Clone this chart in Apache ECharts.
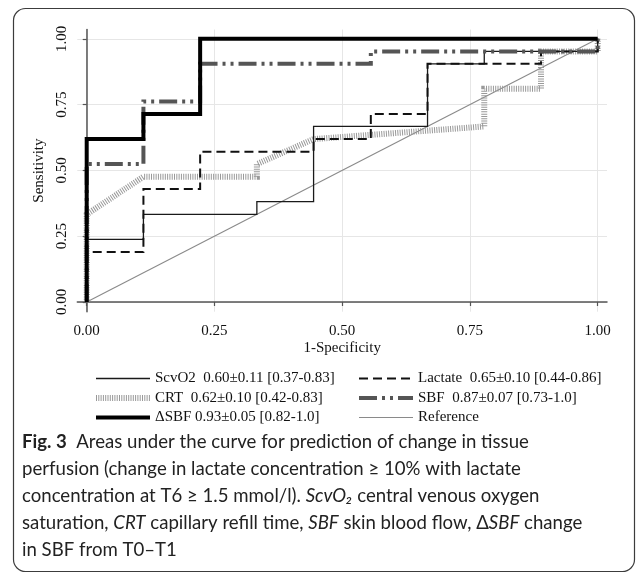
<!DOCTYPE html>
<html>
<head>
<meta charset="utf-8">
<script src="https://cdn.jsdelivr.net/npm/echarts@6/dist/echarts.min.js"></script>
<style>
html, body { margin: 0; padding: 0; background: #fff; }
#chart { width: 637px; height: 574px; }
</style>
</head>
<body>
<div id="chart"></div>
<script>
// ROC steps: [1-specificity, sensitivity]
var scvo2 = [[0,0],[0,0.238],[0.111,0.238],[0.111,0.333],[0.333,0.333],[0.333,0.381],[0.444,0.381],[0.444,0.667],[0.667,0.667],[0.667,0.905],[0.778,0.905],[0.778,0.952],[1,0.952],[1,1]];
var lactate = [[0,0],[0,0.190],[0.111,0.190],[0.111,0.429],[0.222,0.429],[0.222,0.571],[0.444,0.571],[0.444,0.619],[0.556,0.619],[0.556,0.714],[0.667,0.714],[0.667,0.905],[0.889,0.905],[0.889,0.952],[1,0.952],[1,1]];
var crt = [[0,0],[0,0.333],[0.111,0.476],[0.333,0.476],[0.333,0.524],[0.444,0.619],[0.778,0.667],[0.778,0.810],[0.889,0.810],[0.889,0.952],[1,0.952],[1,1]];
var sbf = [[0,0],[0,0.524],[0.111,0.524],[0.111,0.762],[0.222,0.762],[0.222,0.905],[0.556,0.905],[0.556,0.952],[1,0.952],[1,1]];
var dsbf = [[0,0],[0,0.619],[0.111,0.619],[0.111,0.714],[0.222,0.714],[0.222,1],[1,1]];
var reference = [[0,0],[1,1]];
var ticks = [0, 0.25, 0.5, 0.75, 1];
var names = ['ScvO2  0.60±0.11 [0.37-0.83]', 'Lactate  0.65±0.10 [0.44-0.86]',
             'CRT  0.62±0.10 [0.42-0.83]', 'SBF  0.87±0.07 [0.73-1.0]',
             '\u0394SBF 0.93±0.05 [0.82-1.0]', 'Reference'];

var serif = 'Liberation Serif';
var chart = echarts.init(document.getElementById('chart'));

function fmt(v) { return v.toFixed(2); }

function lineSeries(name, data, color, width, type, z) {
    return {
        name: name,
        type: 'line',
        data: data,
        symbol: 'none',
        showSymbol: false,
        z: z,
        animation: false,
        lineStyle: {color: color, width: width, type: type, cap: 'butt', join: 'miter'},
        itemStyle: {color: color}
    };
}

var caption = '{b|Fig. 3}  Areas under the curve for prediction of change in tissue\n' +
    'perfusion (change in lactate concentration \u2265 10% with lactate\n' +
    'concentration at T6 \u2265 1.5 mmol/l). {i|ScvO\u2082} central venous oxygen\n' +
    'saturation, {i|CRT} capillary refill time, {i|SBF} skin blood flow, \u0394{i|SBF} change\n' +
    'in SBF from T0\u2013T1';

var legendBase = {
    orient: 'vertical',
    top: 366,
    itemWidth: 54, itemHeight: 14, itemGap: 4.5,
    textStyle: {fontFamily: serif, fontSize: 15, color: '#111'},
    lineStyle: {width: 'inherit'},
    itemStyle: {opacity: 0, borderWidth: 0},
    selectedMode: false
};

var option = {
    animation: false,
    textStyle: {fontFamily: serif},
    grid: {left: 77.3, right: 30, top: 29.5, bottom: 262.3, containLabel: false},
    xAxis: {
        type: 'value',
        min: -0.0184,
        max: 1.0182,
        name: '1-Specificity',
        nameLocation: 'middle',
        nameGap: 29,
        nameTextStyle: {fontFamily: serif, fontSize: 15, color: '#111'},
        axisLine: {lineStyle: {color: '#555', width: 1.5}},
        axisTick: {show: true, length: 4, customValues: ticks, lineStyle: {color: '#555', width: 1.2}},
        axisLabel: {customValues: ticks, formatter: fmt, fontFamily: serif, fontSize: 15, color: '#111', margin: 12},
        splitLine: {show: true, lineStyle: {color: '#e6e6e6', width: 1}}
    },
    yAxis: {
        type: 'value',
        min: -0.0369,
        max: 1.0354,
        name: 'Sensitivity',
        nameLocation: 'middle',
        nameGap: 21,
        nameRotate: 90,
        nameTextStyle: {fontFamily: serif, fontSize: 15, color: '#111'},
        axisLine: {show: true, lineStyle: {color: '#555', width: 1.5}},
        axisTick: {show: true, length: 4, customValues: ticks, lineStyle: {color: '#555', width: 1.2}},
        axisLabel: {customValues: ticks, formatter: fmt, rotate: 90, fontFamily: serif, fontSize: 15, color: '#111', margin: 8},
        splitLine: {show: true, lineStyle: {color: '#e6e6e6', width: 1}}
    },
    legend: [
        Object.assign({}, legendBase, {left: 88, data: [names[0], names[2], names[4]]}),
        Object.assign({}, legendBase, {left: 352, data: [names[1], names[3], names[5]]})
    ],
    series: [
        lineSeries(names[5], reference, '#8a8a8a', 1.1, 'solid', 2),
        lineSeries(names[2], crt, '#999', 6, [1, 1.3], 3),
        lineSeries(names[0], scvo2, '#1a1a1a', 1.3, 'solid', 4),
        lineSeries(names[1], lactate, '#111', 2, [9, 5], 5),
        lineSeries(names[3], sbf, '#555', 4, [18, 5, 3, 5, 3, 5], 6),
        lineSeries(names[4], dsbf, '#000', 4, 'solid', 7)
    ],
    graphic: [
        {
            type: 'rect',
            silent: true,
            shape: {x: 13.5, y: 8.5, width: 621, height: 563, r: 12},
            style: {fill: 'none', stroke: '#3c3c3c', lineWidth: 1.2}
        },
        {
            type: 'text',
            left: 22,
            top: 428,
            silent: true,
            style: {
                text: caption,
                fontFamily: 'Lato',
                fontSize: 18.6,
                lineHeight: 27,
                fill: '#222',
                rich: {
                    b: {fontFamily: 'Lato', fontWeight: 'bold', fontSize: 18.6, lineHeight: 27, fill: '#222'},
                    i: {fontFamily: 'Lato', fontStyle: 'italic', fontSize: 18.6, lineHeight: 27, fill: '#222'}
                }
            }
        }
    ]
};
chart.setOption(option);
</script>
</body>
</html>
